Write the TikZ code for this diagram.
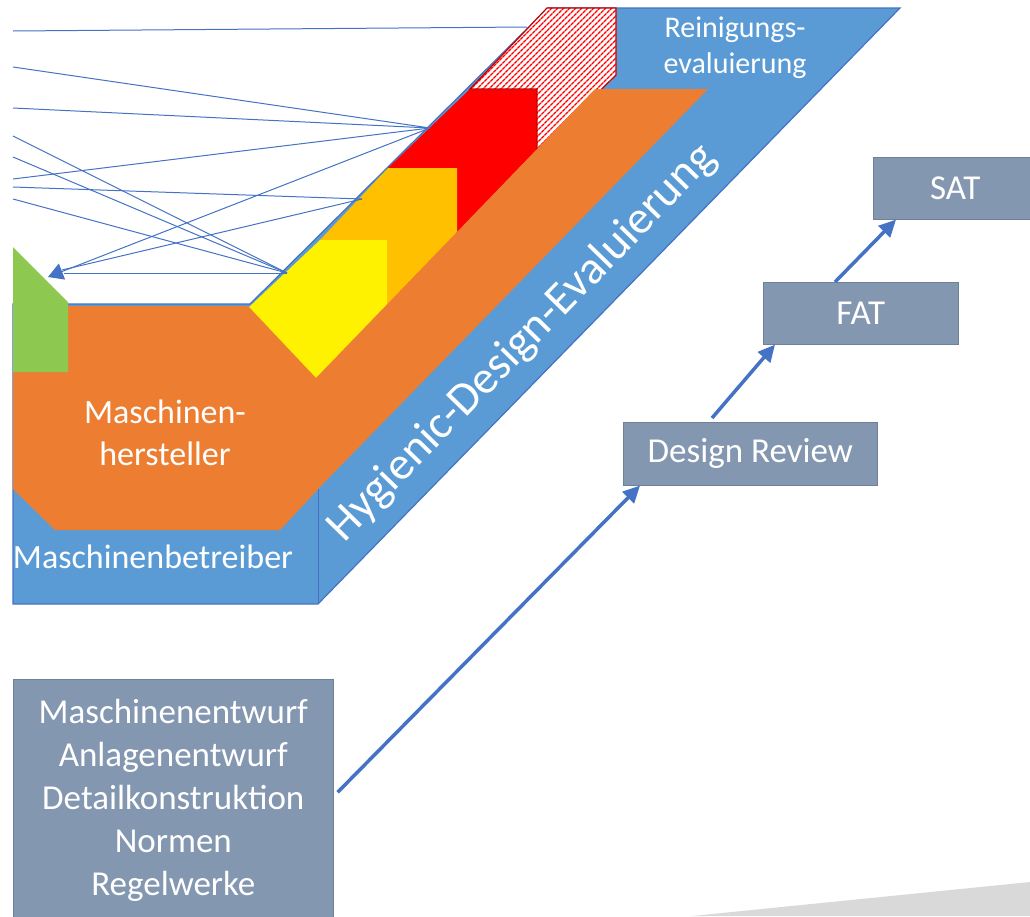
\documentclass[tikz,border=0pt]{standalone}
\usepackage{fontspec}
\setmainfont{Carlito}
\usetikzlibrary{arrows.meta,patterns.meta,calc}
\definecolor{hdblue}{HTML}{5B9BD5}
\definecolor{hdorange}{HTML}{ED7D31}
\definecolor{hdgray}{HTML}{8497B0}
\definecolor{hdline}{HTML}{4472C4}
\definecolor{hdamber}{HTML}{FFC000}
\definecolor{hdgreen}{HTML}{8DC850}
\definecolor{hdlight}{HTML}{D9D9D9}
\definecolor{hdhatch}{HTML}{C00000}
\begin{document}
\begin{tikzpicture}[x=1pt,y=-1pt,
  graybox/.style={fill=hdgray, draw=hdgray!85!black, line width=0.6pt, text=white,
    font=\fontsize{35}{43}\selectfont, inner sep=0pt, anchor=north west, align=center},
  thinlink/.style={draw=hdline, line width=1pt},
  flow/.style={draw=hdline, line width=3.5pt, -{Triangle[length=17pt,width=16pt]}},
  whitetext/.style={text=white, align=center, inner sep=0pt}]
\useasboundingbox (0,0) rectangle (1030,916);

% light gray corner shape
\fill[hdlight] (692,916) -- (1030,882) -- (1030,916) -- cycle;

% blue base (Maschinenbetreiber + band)
\filldraw[fill=hdblue, draw=hdline, line width=1.2pt]
  (13,304) -- (250,304) -- (548,8) -- (900,8) -- (318,604) -- (13,604) -- cycle;

% steps
\fill[red] (388,168) -- (470,89) -- (537,89) -- (537,175) -- (457,255) -- (457,168) -- cycle;
\draw[draw=hdhatch, line width=1.2pt, preaction={fill=white},
      pattern={Lines[angle=45, distance=4pt, line width=1.4pt]}, pattern color=red]
  (470,89) -- (547,8) -- (616,8) -- (616,75) -- (537,152) -- (537,89) -- cycle;
\fill[hdamber] (320,240) -- (388,168) -- (457,168) -- (457,255) -- (387,325) -- (387,240) -- cycle;
\fill[yellow] (248,308) -- (320,240) -- (387,240) -- (387,330) -- (316,400) -- (244,326) -- cycle;

% orange (Maschinenhersteller)
\fill[hdorange] (13,306) -- (248,306) -- (316,378) -- (595,89) -- (708,89) -- (320,487)
  -- (280,530) -- (55,530) -- (13,489) -- cycle;
\draw[hdline, line width=1pt] (318,489) -- (318,604);

% green
\fill[hdgreen] (13,247) -- (68,302) -- (68,372) -- (13,372) -- cycle;

% texts
\node[whitetext, font=\fontsize{30}{36}\selectfont] (rein) at (735,48) {Reinigungs-\\evaluierung};
\node[whitetext, font=\fontsize{34}{42}\selectfont] (mh) at (165,433) {Maschinen-\\hersteller};
\node[whitetext, font=\fontsize{34}{42}\selectfont] (mbt) at (153,557) {Maschinenbetreiber};
\node[whitetext, rotate=45.8, font=\fontsize{46.5}{56}\selectfont] (hde) at (522,343) {Hygienic-Design-Evaluierung};

% thin connectors
\coordinate (p0) at (527,27);
\coordinate (pr) at (430,128);
\coordinate (pa) at (362,199);
\coordinate (py) at (287,273);
\coordinate (tip) at (48,277);
\coordinate (ta) at (62,270);
\coordinate (ty) at (64,273);
\coordinate (l1) at (13,31);
\coordinate (l2) at (13,67);
\coordinate (l3) at (13,108);
\coordinate (l4) at (13,136);
\coordinate (l5) at (13,157);
\coordinate (l6) at (13,179);
\coordinate (l7) at (13,187);
\coordinate (l8) at (13,199);
\draw[thinlink] (l1) -- (p0);
\draw[thinlink] (l2) -- (pr);
\draw[thinlink] (l3) -- (pr);
\draw[thinlink] (l6) -- (pr);
\draw[thinlink] (l7) -- (pa);
\draw[thinlink] (l4) -- (py);
\draw[thinlink] (l5) -- (py);
\draw[thinlink] (l8) -- (py);
\draw[thinlink] (pa) -- (ta);
\draw[thinlink] (py) -- (ty);
\draw[thinlink, -{Triangle[length=15pt,width=17pt]}] (pr) -- (tip);

% gray boxes
\node[graybox, minimum width=320pt, minimum height=242pt] (mb) at (13,679)
  {Maschinenentwurf\\Anlagenentwurf\\Detailkonstruktion\\Normen\\Regelwerke};
\node[graybox, minimum width=254pt, minimum height=63pt] (dr) at (623,422) {Design Review};
\node[graybox, minimum width=195pt, minimum height=62pt] (fat) at (763,282) {FAT};
\node[graybox, minimum width=164pt, minimum height=62pt] (sat) at (873,157) {SAT};

% flow arrows
\draw[flow] ($(mb.east)+(4,-8)$) -- ($(dr.south west)+(17,0)$);
\draw[flow] ($(dr.north west)+(89,-4)$) -- ($(fat.south west)+(12,0)$);
\draw[flow] ($(fat.north west)+(72,0)$) -- ($(sat.south west)+(23,0)$);
\end{tikzpicture}
\end{document}
